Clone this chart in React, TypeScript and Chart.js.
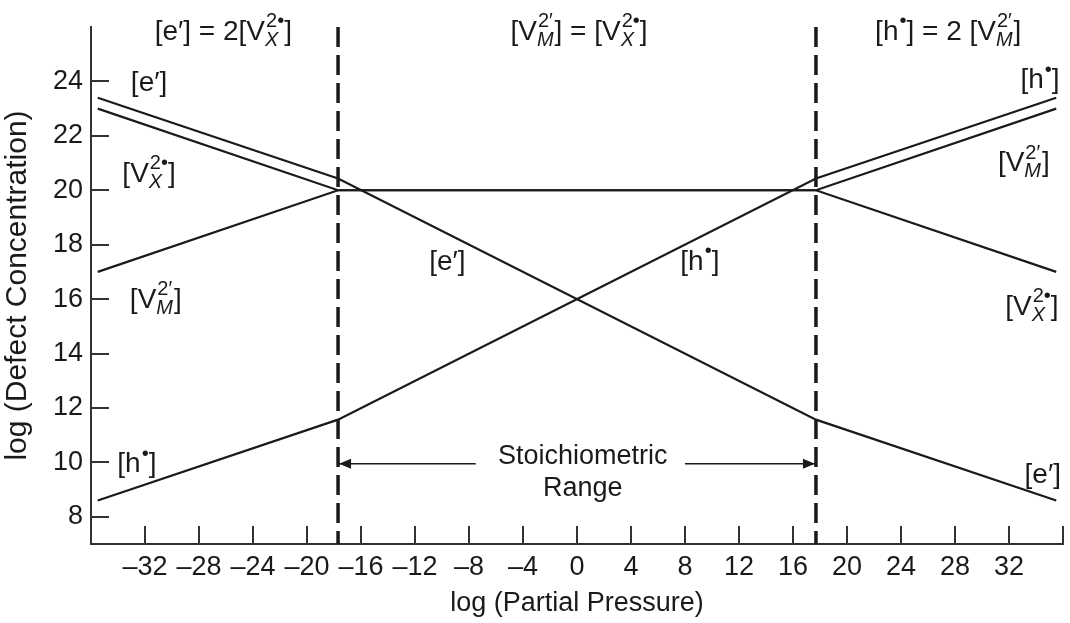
import React, { useEffect, useRef } from 'react';
import { Chart, registerables } from 'chart.js';

Chart.register(...registerables);

const FONT = '"Liberation Sans", Arial, Helvetica, sans-serif';
const INK = '#1a1a1a';

// x positions of the break points (log partial pressure)
const xKnots = [-35.5, -17.7, 17.7, 35.5];
// log concentrations at those break points
const electrons = [23.4, 20.43, 11.57, 8.6];
const holes = [8.6, 11.57, 20.43, 23.4];
const anionVacancies = [23.0, 20.0, 20.0, 17.0];
const cationVacancies = [17.0, 20.0, 20.0, 23.0];

// stoichiometric range boundaries
const boundaryX = [-17.7, 17.7];
const rangeArrowY = 9.95;
const rangeArrowInnerEnds = [-7.5, 8.0];

const xTicks = [-32, -28, -24, -20, -16, -12, -8, -4, 0, 4, 8, 12, 16, 20, 24, 28, 32, 36];
const xTickLabels = ['–32', '–28', '–24', '–20', '–16', '–12', '–8', '–4', '0', '4', '8', '12', '16', '20', '24', '28', '32', ''];
const yTicks = [8, 10, 12, 14, 16, 18, 20, 22, 24];

const xTitle = 'log (Partial Pressure)';
const yTitle = 'log (Defect Concentration)';

// text annotations: _{sub}^{sup} stacked, ^{sup} alone
const annotations = [
  { text: '[e′] = 2[V_{X}^{2•}]', x: -26.2, y: 25.88 },
  { text: '[V_{M}^{2′}] = [V_{X}^{2•}]', x: 0.15, y: 25.88 },
  { text: '[h^{•}] = 2 [V_{M}^{2′}]', x: 27.5, y: 25.88 },
  { text: '[e′]', x: -31.7, y: 24.02 },
  { text: '[V_{X}^{2•}]', x: -31.7, y: 20.67 },
  { text: '[V_{M}^{2′}]', x: -31.2, y: 16.05 },
  { text: '[h^{•}]', x: -32.6, y: 10.0 },
  { text: '[e′]', x: -9.6, y: 17.44 },
  { text: '[h^{•}]', x: 9.1, y: 17.44 },
  { text: '[h^{•}]', x: 34.3, y: 24.11 },
  { text: '[V_{M}^{2′}]', x: 33.1, y: 21.06 },
  { text: '[V_{X}^{2•}]', x: 33.7, y: 15.79 },
  { text: '[e′]', x: 34.5, y: 9.62 },
  { text: 'Stoichiometric', x: 0.43, y: 10.28 },
  { text: 'Range', x: 0.43, y: 9.1 },
];

type Part = { t?: string; sub?: string; sup?: string };

function parseRich(s: string): Part[] {
  const parts: Part[] = [];
  let buf = '';
  let i = 0;
  const readGroup = (start: number) => {
    let j = start;
    let out = '';
    while (j < s.length && s[j] !== '}') out += s[j++];
    return { out, next: j + 1 };
  };
  while (i < s.length) {
    if ((s[i] === '_' || s[i] === '^') && s[i + 1] === '{') {
      if (buf) { parts.push({ t: buf }); buf = ''; }
      const p: Part = {};
      if (s[i] === '_') {
        const g = readGroup(i + 2);
        p.sub = g.out;
        i = g.next;
        if (s[i] === '^' && s[i + 1] === '{') {
          const g2 = readGroup(i + 2);
          p.sup = g2.out;
          i = g2.next;
        }
      } else {
        const g = readGroup(i + 2);
        p.sup = g.out;
        i = g.next;
      }
      parts.push(p);
    } else {
      buf += s[i++];
    }
  }
  if (buf) parts.push({ t: buf });
  return parts;
}

function drawRich(ctx: CanvasRenderingContext2D, text: string, cx: number, cy: number, size: number) {
  const parts = parseRich(text);
  const small = Math.round(size * 0.7);
  const mainFont = `${size}px ${FONT}`;
  const supFont = `${small}px ${FONT}`;
  const subFont = `italic ${small}px ${FONT}`;
  const widths = parts.map((p) => {
    if (p.t !== undefined) { ctx.font = mainFont; return ctx.measureText(p.t).width; }
    let w = 0;
    if (p.sub) { ctx.font = subFont; w = Math.max(w, ctx.measureText(p.sub).width); }
    if (p.sup) { ctx.font = supFont; w = Math.max(w, ctx.measureText(p.sup).width); }
    return w + 1;
  });
  const total = widths.reduce((a, b) => a + b, 0);
  let x = cx - total / 2;
  const base = cy + size * 0.35;
  ctx.textAlign = 'left';
  ctx.textBaseline = 'alphabetic';
  ctx.fillStyle = INK;
  parts.forEach((p, i) => {
    if (p.t !== undefined) {
      ctx.font = mainFont;
      ctx.fillText(p.t, x, base);
    } else {
      if (p.sub) { ctx.font = subFont; ctx.fillText(p.sub, x, base + size * 0.22); }
      if (p.sup) { ctx.font = supFont; ctx.fillText(p.sup, x + 1, base - size * 0.45); }
    }
    x += widths[i];
  });
}

const overlayPlugin = {
  id: 'overlay',
  afterDatasetsDraw(chart: any) {
    const { ctx, chartArea } = chart;
    const xs = chart.scales.x;
    const ys = chart.scales.y;
    ctx.save();
    // inner tick marks
    ctx.strokeStyle = '#333';
    ctx.lineWidth = 2;
    const tickLen = 18;
    ctx.beginPath();
    xTicks.forEach((v) => {
      const px = Math.round(xs.getPixelForValue(v));
      ctx.moveTo(px, chartArea.bottom);
      ctx.lineTo(px, chartArea.bottom - tickLen);
    });
    yTicks.forEach((v) => {
      const py = Math.round(ys.getPixelForValue(v));
      ctx.moveTo(chartArea.left, py);
      ctx.lineTo(chartArea.left + tickLen, py);
    });
    ctx.stroke();
    // arrowheads on the stoichiometric range
    const ay = ys.getPixelForValue(rangeArrowY);
    const lx = xs.getPixelForValue(boundaryX[0]) + 1;
    const rx = xs.getPixelForValue(boundaryX[1]) - 1;
    ctx.fillStyle = INK;
    ctx.beginPath();
    ctx.moveTo(lx, ay);
    ctx.lineTo(lx + 12, ay - 5);
    ctx.lineTo(lx + 12, ay + 5);
    ctx.closePath();
    ctx.fill();
    ctx.beginPath();
    ctx.moveTo(rx, ay);
    ctx.lineTo(rx - 12, ay - 5);
    ctx.lineTo(rx - 12, ay + 5);
    ctx.closePath();
    ctx.fill();
    // labels
    annotations.forEach((a) => {
      const size = a.text.includes('[') ? 28 : 27;
      drawRich(ctx, a.text, xs.getPixelForValue(a.x), ys.getPixelForValue(a.y), size);
    });
    ctx.restore();
  },
};

export default function App() {
  const ref = useRef<HTMLCanvasElement | null>(null);
  useEffect(() => {
    if (!ref.current) return;
    const pts = (ys: number[]) => xKnots.map((x, i) => ({ x, y: ys[i] }));
    const solid = { borderColor: INK, borderWidth: 2.2, pointRadius: 0, fill: false, tension: 0 };
    const chart = new Chart(ref.current, {
      type: 'line',
      data: {
        datasets: [
          { label: '[e′]', data: pts(electrons), ...solid },
          { label: '[h•]', data: pts(holes), ...solid },
          { label: '[V_X]', data: pts(anionVacancies), ...solid },
          { label: '[V_M]', data: pts(cationVacancies), ...solid },
          {
            label: 'left boundary',
            data: [{ x: boundaryX[0], y: 26 }, { x: boundaryX[0], y: 7 }],
            borderColor: INK, borderWidth: 3.5, borderDash: [20, 8], pointRadius: 0,
          },
          {
            label: 'right boundary',
            data: [{ x: boundaryX[1], y: 26 }, { x: boundaryX[1], y: 7 }],
            borderColor: INK, borderWidth: 3.5, borderDash: [20, 8], pointRadius: 0,
          },
          {
            label: 'range left',
            data: [{ x: boundaryX[0], y: rangeArrowY }, { x: rangeArrowInnerEnds[0], y: rangeArrowY }],
            borderColor: INK, borderWidth: 1.5, pointRadius: 0,
          },
          {
            label: 'range right',
            data: [{ x: rangeArrowInnerEnds[1], y: rangeArrowY }, { x: boundaryX[1], y: rangeArrowY }],
            borderColor: INK, borderWidth: 1.5, pointRadius: 0,
          },
        ],
      },
      options: {
        animation: false,
        responsive: false,
        devicePixelRatio: 1,
        layout: { padding: { top: 27, right: 1, bottom: 0, left: 0 } },
        plugins: { legend: { display: false }, tooltip: { enabled: false } },
        scales: {
          x: {
            type: 'linear',
            min: -36,
            max: 36,
            afterBuildTicks: (s: any) => { s.ticks = xTicks.map((v) => ({ value: v })); },
            afterFit: (s: any) => { s.height = 79; },
            grid: { display: false, drawTicks: false },
            border: { display: true, color: '#333', width: 2 },
            ticks: {
              autoSkip: false,
              maxRotation: 0,
              padding: 7,
              color: INK,
              font: { size: 27, family: FONT },
              callback: (v: any) => xTickLabels[xTicks.indexOf(Number(v))] ?? '',
            },
            title: {
              display: true,
              text: xTitle,
              color: INK,
              font: { size: 27, family: FONT },
              padding: { top: 0, bottom: 3 },
            },
          },
          y: {
            type: 'linear',
            min: 7,
            max: 26,
            afterBuildTicks: (s: any) => { s.ticks = yTicks.map((v) => ({ value: v })); },
            afterFit: (s: any) => { s.width = 91; },
            grid: { display: false, drawTicks: false },
            border: { display: true, color: '#333', width: 2 },
            ticks: {
              padding: 8,
              color: INK,
              font: { size: 27, family: FONT },
            },
            title: {
              display: true,
              text: yTitle,
              color: INK,
              font: { size: 30, family: FONT },
              padding: { top: 0, bottom: 0 },
            },
          },
        },
      },
      plugins: [overlayPlugin],
    } as any);
    return () => chart.destroy();
  }, []);
  return (
    <div style={{ position: 'fixed', left: 0, top: 0, width: 1070, height: 623, background: '#fff' }}>
      <canvas ref={ref} width={1070} height={623} />
    </div>
  );
}
